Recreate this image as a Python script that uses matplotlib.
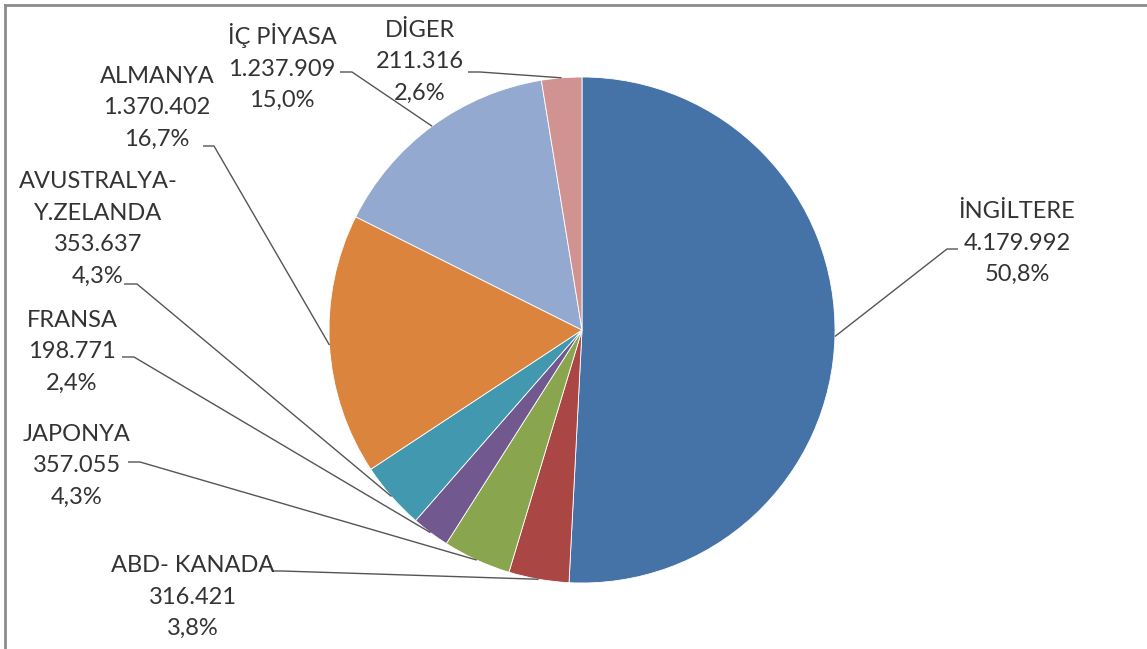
import numpy as np
import matplotlib
matplotlib.use("Agg")
import matplotlib.pyplot as plt

# data, clockwise from 12 o'clock
countries = ["İNGİLTERE", "ABD- KANADA", "JAPONYA", "FRANSA",
             "AVUSTRALYA-\nY.ZELANDA", "ALMANYA", "İÇ PİYASA", "DİGER"]
values = [4179992, 316421, 357055, 198771, 353637, 1370402, 1237909, 211316]
colors = ["#4572A7", "#AA4643", "#89A54E", "#71588F",
          "#4198AF", "#DB843D", "#93A9CF", "#D19392"]

# label layout in pixels (x, y from top): text block centre, leader tick
label_pos = [(1017, 243), (193, 597), (77, 466), (72, 352),
             (98, 229), (157, 108), (282, 67), (420, 62)]
tick_pos = [((958, 249), (947, 249)), ((272, 571), (282, 571)),
            ((128, 462), (140, 462)), ((122, 357), (134, 357)),
            ((124, 284), (137, 284)), ((203, 146), (214, 146)),
            ((340, 72), (352, 72)), ((468, 72), (480, 72))]

W, H = 1147, 649
CX, CY, R = 582, 330, 253

fig = plt.figure(figsize=(W / 100, H / 100), dpi=100)
ax = fig.add_axes([0, 0, 1, 1])

wedges, _ = ax.pie(values, colors=colors, startangle=90, counterclock=False,
                   center=(CX, H - CY), radius=R,
                   wedgeprops=dict(linewidth=0.6, edgecolor="white"))
ax.set_xlim(0, W)
ax.set_ylim(0, H)
ax.set_aspect("equal")
ax.axis("off")

total = sum(values)
for w, name, val, (lx, ly), (t0, t1) in zip(wedges, countries, values,
                                            label_pos, tick_pos):
    pct = f"{100 * val / total:.1f}".replace(".", ",")
    num = f"{val:,}".replace(",", ".")
    ax.text(lx, H - ly, f"{name}\n{num}\n{pct}%", ha="center", va="center",
            multialignment="center", fontsize=17, family="Lato",
            color="#333333", linespacing=1.62)
    mid = np.deg2rad((w.theta1 + w.theta2) / 2)
    ax_ = CX + R * np.cos(mid)
    ay_ = (H - CY) + R * np.sin(mid)
    ax.plot([t0[0], t1[0], ax_], [H - t0[1], H - t1[1], ay_],
            color="#555555", lw=1.0, solid_capstyle="butt")

# frame lines on top and left
ax.plot([5, W], [H - 5, H - 5], color="#8c8c8c", lw=2)
ax.plot([5, 5], [H - 5, 0], color="#8c8c8c", lw=2)

fig.savefig("out.png", dpi=100)
